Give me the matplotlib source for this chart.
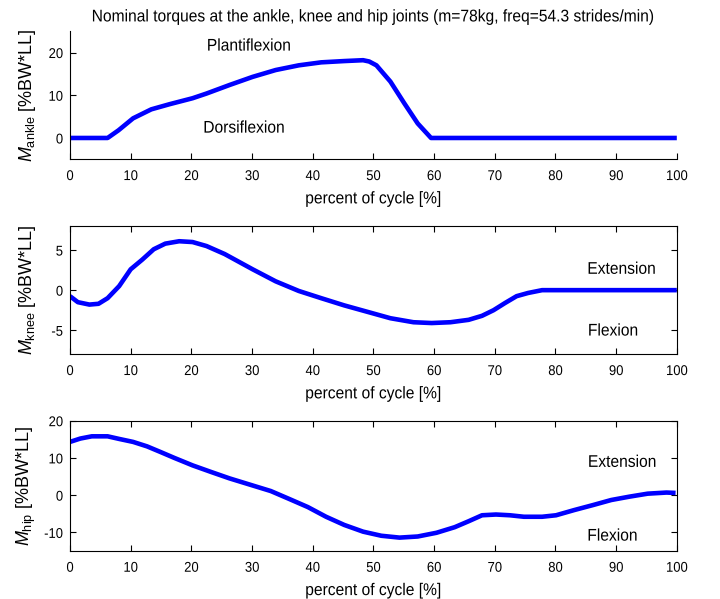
import matplotlib
matplotlib.use("Agg")
import matplotlib.pyplot as plt
from matplotlib.patheffects import AbstractPathEffect
from matplotlib.transforms import Affine2D

plt.rcParams['font.family'] = ['Liberation Sans', 'DejaVu Sans']
plt.rcParams['mathtext.fontset'] = 'custom'
plt.rcParams['mathtext.rm'] = 'Liberation Sans'
plt.rcParams['mathtext.it'] = 'Liberation Sans:italic'
plt.rcParams['axes.unicode_minus'] = False

# ---- data ----
ankle_x = [0, 6.2, 8, 10.4, 13.4, 16.4, 20.2, 22.5, 26.3, 30.1, 33.9, 37.7, 41.4, 45.2, 48.3,
           49.3, 50.5, 52.8, 55.1, 57.3, 59.5, 100]
ankle_y = [0, 0, 1.8, 4.6, 6.7, 7.9, 9.3, 10.4, 12.4, 14.3, 15.9, 17.0, 17.7, 18.0, 18.2,
           17.9, 17.0, 13.2, 8.1, 3.4, 0.0, 0]

knee_x = [0, 1.3, 3.2, 4.7, 6.2, 8.1, 10, 11.9, 13.8, 15.7, 18, 20.2, 22.5, 25.5, 30.1, 33.9,
          37.7, 41.4, 45.2, 49, 52.8, 56.6, 59.6, 62.7, 65.7, 67.9, 69.8, 71.7, 73.6, 75.5,
          77.8, 100]
knee_y = [-0.75, -1.5, -1.8, -1.7, -1.0, 0.5, 2.6, 3.8, 5.1, 5.8, 6.1, 6.0, 5.5, 4.5, 2.6, 1.1,
          -0.1, -1.0, -1.9, -2.7, -3.5, -4.0, -4.1, -4.0, -3.7, -3.2, -2.5, -1.6, -0.75, -0.35,
          0.0, 0.0]

hip_x = [0, 1.7, 3.6, 6.2, 8.1, 10.4, 12.7, 14.9, 17.2, 20.2, 23.3, 26.3, 30.1, 33.1, 36.1,
         39.2, 42.2, 45.2, 48.3, 51.3, 54.3, 57.3, 60.4, 63.4, 65.7, 67.9, 70.2, 72.5, 74.8,
         77.8, 80.1, 83.1, 86.1, 89.2, 92.2, 95.2, 98.3, 99.8]
hip_y = [14.3, 15.2, 15.8, 15.8, 15.1, 14.3, 13.1, 11.6, 10.0, 8.0, 6.2, 4.5, 2.6, 1.1, -1.0,
         -3.2, -5.8, -8.0, -9.8, -10.9, -11.4, -11.1, -10.1, -8.6, -7.0, -5.4, -5.2, -5.4, -5.8,
         -5.8, -5.4, -4.0, -2.7, -1.3, -0.4, 0.4, 0.7, 0.6]

xticks = [0, 10, 20, 30, 40, 50, 60, 70, 80, 90, 100]
title = 'Nominal torques at the ankle, knee and hip joints (m=78kg, freq=54.3 strides/min)'
xlabel = 'percent of cycle [%]'


class Condense(AbstractPathEffect):
    """Draw text horizontally condensed (narrow look of the reference)."""
    def __init__(self, s=0.92, ha='center'):
        super().__init__()
        self.s = s
        self.frac = {'left': 0.0, 'center': 0.5, 'right': 1.0}[ha]

    def draw_path(self, renderer, gc, tpath, affine, rgbFace=None):
        ext = tpath.get_extents()
        a = ext.x0 + self.frac * ext.width
        t = Affine2D().translate(-a, 0).scale(self.s, 1).translate(a, 0)
        renderer.draw_path(gc, tpath, t + affine, rgbFace)


SX = 0.92
fig = plt.figure(figsize=(7.2, 5.99), dpi=100)
L, W = 0.0972, 0.8428
ax1 = fig.add_axes([L, 0.734, W, 0.214])
ax2 = fig.add_axes([L, 0.4085, W, 0.2142])
ax3 = fig.add_axes([L, 0.0801, W, 0.2176])

blue = '#0000ff'
fs_tick = 10.2
fs_lab = 12.2
fs_y = 13.0


def style(ax, box=True):
    ax.set_xlim(0, 100)
    ax.set_xticks(xticks)
    ax.tick_params(direction='in', length=4, width=0.8, labelsize=fs_tick,
                   top=box, right=box)
    ax.tick_params(axis='x', pad=7)
    ax.tick_params(axis='y', pad=5)
    for s in ax.spines.values():
        s.set_linewidth(0.8)
    if not box:
        ax.spines['top'].set_visible(False)
        ax.spines['right'].set_visible(False)
    xl = ax.set_xlabel(xlabel, fontsize=fs_lab, labelpad=6)
    xl.set_path_effects([Condense(SX, 'center')])


def finish(ax):
    for t in ax.get_xticklabels():
        t.set_path_effects([Condense(SX, 'center')])
    for t in ax.get_yticklabels():
        t.set_path_effects([Condense(SX, 'right')])


def note(ax, x, y, s):
    t = ax.text(x, y, s, ha='center', va='center', fontsize=fs_lab)
    t.set_path_effects([Condense(SX, 'center')])


ax1.plot(ankle_x, ankle_y, color=blue, lw=3.3, solid_capstyle='butt')
style(ax1, box=False)
ax1.set_ylim(-5, 25)
ax1.set_yticks([0, 10, 20])
ax1.set_ylabel(r'$M_{\rm ankle}$ [%BW*LL]', fontsize=fs_y)
note(ax1, 29.5, 21.5, 'Plantiflexion')
note(ax1, 28.7, 2.3, 'Dorsiflexion')
tt = ax1.set_title(title, fontsize=fs_lab, pad=7)
tt.set_path_effects([Condense(SX, 'center')])

ax2.plot(knee_x, knee_y, color=blue, lw=3.3, solid_capstyle='butt')
style(ax2)
ax2.set_ylim(-8, 8)
ax2.set_yticks([-5, 0, 5])
ax2.set_ylabel(r'$M_{\rm knee}$ [%BW*LL]', fontsize=fs_y)
note(ax2, 90.9, 2.6, 'Extension')
note(ax2, 89.5, -5.1, 'Flexion')

ax3.plot(hip_x, hip_y, color=blue, lw=3.3, solid_capstyle='butt')
style(ax3)
ax3.set_ylim(-15, 20)
ax3.set_yticks([-10, 0, 10, 20])
ax3.set_ylabel(r'$M_{\rm hip}$ [%BW*LL]', fontsize=fs_y)
note(ax3, 91, 8.8, 'Extension')
note(ax3, 89.4, -11, 'Flexion')

for ax in (ax1, ax2, ax3):
    ax.yaxis.set_label_coords(-0.052, 0.5)
    finish(ax)

fig.savefig('out.png', dpi=100)
